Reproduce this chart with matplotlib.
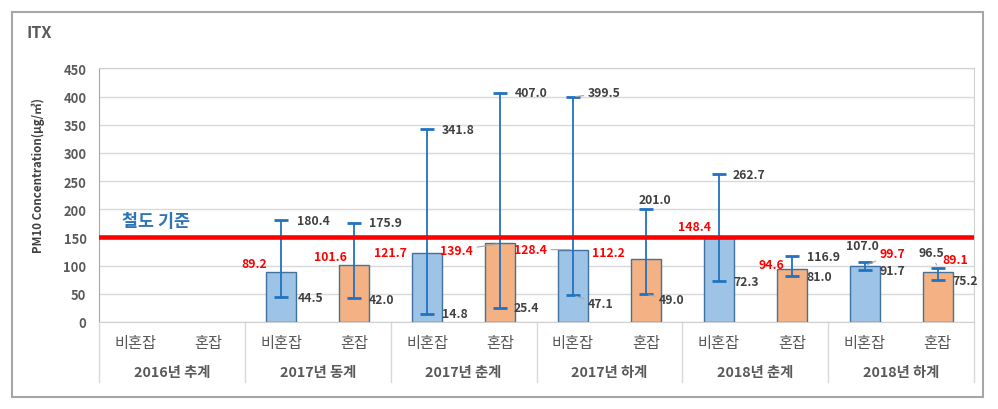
import numpy as np
import matplotlib
matplotlib.use("Agg")
import matplotlib.pyplot as plt
from matplotlib.patches import Rectangle
from matplotlib.transforms import blended_transform_factory

plt.rcParams['font.family'] = ['Noto Sans CJK KR', 'DejaVu Sans']

# Data
seasons = ['2016년 추계', '2017년 동계', '2017년 춘계', '2017년 하계', '2018년 춘계', '2018년 하계']
groups = ['비혼잡', '혼잡']
mean_vals = [np.nan, np.nan, 89.2, 101.6, 121.7, 139.4, 128.4, 112.2, 148.4, 94.6, 99.7, 89.1]
max_vals = [np.nan, np.nan, 180.4, 175.9, 341.8, 407.0, 399.5, 201.0, 262.7, 116.9, 107.0, 96.5]
min_vals = [np.nan, np.nan, 44.5, 42.0, 14.8, 25.4, 47.1, 49.0, 72.3, 81.0, 91.7, 75.2]
standard = 150
yticks = [0, 50, 100, 150, 200, 250, 300, 350, 400, 450]

# label placement (pixel offsets from bar centre / value)
mean_dx = [0, 0, -14, -7, -20, -27, -26, -21, -8, -7, 15, 5]
mean_dy = [0, 0, 8, 8, 1, -7, 0, 6, 12, 4, 12, 12]
mean_ha = ['right'] * 10 + ['left', 'left']
mean_lead = [False] * 5 + [True, True] + [False] * 3 + [True, False]
max_dx = [0, 0, 16, 15, 15, 15, 15, 9, 14, 15, -2, -6]
max_dy = [0, 0, 0, 0, 0, 0, 4, 9, 0, 0, 16, 15]
max_ha = ['left'] * 7 + ['center', 'left', 'left', 'center', 'center']
max_lead = [False] * 6 + [True] + [False] * 4 + [True]
min_dx = [0, 0, 16, 15, 15, 14, 15, 13, 15, 15, 15, 15]
min_dy = [0, 0, -1, -1, 0, 0, -8, -5, 0, 0, 0, -1]
min_lead = [False] * 6 + [True, True] + [False] * 4

blue = '#9DC3E6'
orange = '#F4B183'
err_color = '#2172C0'
txt_gray = '#595959'

fig = plt.figure(figsize=(9.98, 4.10), dpi=100)
ax = fig.add_axes([0.0992, 0.2122, 0.8768, 0.6183])

x = np.arange(len(mean_vals))
mean_arr = np.array(mean_vals)
max_arr = np.array(max_vals)
min_arr = np.array(min_vals)
ok = ~np.isnan(mean_arr)
colors = [blue if i % 2 == 0 else orange for i in x]

ax.set_axisbelow(True)
ax.yaxis.grid(True, color='#d9d9d9', lw=1)
ax.bar(x[ok], mean_arr[ok], width=0.41, color=np.array(colors)[ok],
       edgecolor='#41719C', lw=1, zorder=2)
ax.errorbar(x[ok], mean_arr[ok],
            yerr=[mean_arr[ok] - min_arr[ok], max_arr[ok] - mean_arr[ok]],
            fmt='none', ecolor=err_color, elinewidth=1.3, capsize=4.7,
            capthick=2, zorder=3)

ax.axhline(standard, color='#FF0000', lw=3.3, zorder=4)
ax.text(-0.18, 179, '철도 기준', color='#2E75B6', fontsize=12.5,
        fontweight='bold', va='center', ha='left', zorder=5)


def put_label(xi, val, txt, dx, dy, ha, color, lead):
    kw = {}
    if lead:
        kw['arrowprops'] = dict(arrowstyle='-', color='#a6a6a6', lw=0.8,
                                shrinkA=1, shrinkB=2)
    ax.annotate(txt, xy=(xi, val), xytext=(dx, dy), textcoords='offset pixels',
                ha=ha, va='center', fontsize=8.8, fontweight='bold',
                color=color, zorder=6, **kw)


for i in x[ok]:
    put_label(i, mean_vals[i], f'{mean_vals[i]:.1f}', mean_dx[i], mean_dy[i],
              mean_ha[i], '#FF0000', mean_lead[i])
    put_label(i, max_vals[i], f'{max_vals[i]:.1f}', max_dx[i], max_dy[i],
              max_ha[i], '#404040', max_lead[i])
    put_label(i, min_vals[i], f'{min_vals[i]:.1f}', min_dx[i], min_dy[i],
              'left', '#404040', min_lead[i])

ax.set_xlim(-0.5, len(mean_vals) - 0.5)
ax.set_ylim(0, 450)
ax.set_yticks(yticks)
ax.tick_params(axis='y', length=0, pad=9, labelsize=9.3, labelcolor=txt_gray)
for lbl in ax.get_yticklabels():
    lbl.set_fontweight('bold')
ax.set_xticks([])
for side in ['top', 'right', 'bottom']:
    ax.spines[side].set_color('#d0d0d0')
ax.spines['left'].set_color('#a6a6a6')

# two-level category axis
trans = blended_transform_factory(ax.transData, ax.transAxes)
for i in x:
    ax.text(i, -0.079, groups[i % 2], transform=trans, ha='center', va='center',
            fontsize=11, color=txt_gray, fontweight='medium')
for k, s in enumerate(seasons):
    ax.text(2 * k + 0.5, -0.197, s, transform=trans, ha='center', va='center',
            fontsize=10.3, fontweight='bold', color=txt_gray)
for k in range(len(seasons) + 1):
    ax.plot([2 * k - 0.5, 2 * k - 0.5], [0, -0.236], transform=trans,
            color='#d9d9d9', lw=1, clip_on=False)

fig.text(38 / 998, 1 - 176 / 410, 'PM10 Concentration(μg/㎥)', rotation=90,
         ha='center', va='center', fontsize=8.3, fontweight='bold', color='#404040')
fig.text(26 / 998, 1 - 33 / 410, 'ITX', ha='left', va='center', fontsize=11.5,
         fontweight='bold', color=txt_gray)

fig.add_artist(Rectangle((12 / 998, 12 / 410), 971 / 998, 385 / 410,
                         transform=fig.transFigure, fill=False,
                         edgecolor='#a6a6a6', lw=1.5))

fig.savefig('out.png', dpi=100)
